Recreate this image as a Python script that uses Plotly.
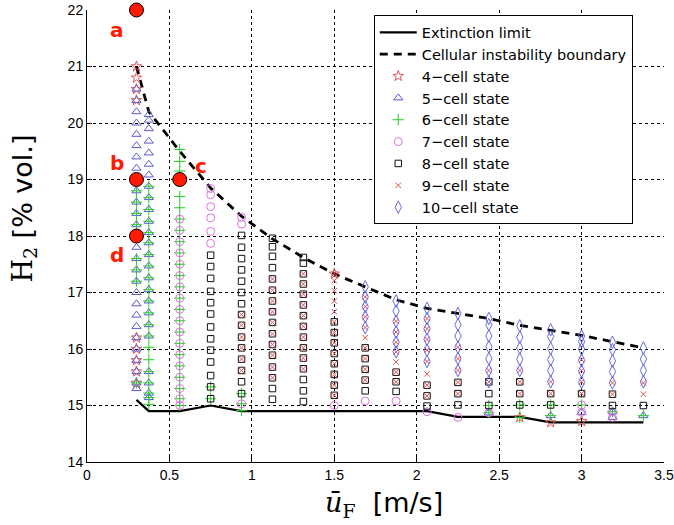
import plotly.graph_objects as go

# ---- data ----
u_cols = [0.3, 0.375, 0.5625, 0.75, 0.9375, 1.125, 1.3125, 1.5, 1.6875, 1.875,
          2.0625, 2.25, 2.4375, 2.625, 2.8125, 3.0, 3.1875, 3.375]

extinction_h = [15.1, 14.9, 14.9, 15.0, 14.9, 14.9, 14.9, 14.9, 14.9, 14.9,
                14.9, 14.8, 14.8, 14.8, 14.7, 14.7, 14.7, 14.7]

boundary_h = [21.0, 20.2, 19.5, 18.85, 18.35, 17.95, 17.62, 17.33, 17.1, 16.87,
              16.72, 16.63, 16.54, 16.42, 16.33, 16.24, 16.13, 16.02]

cell4 = {
    0.3: [21.0, 20.8, 20.6, 20.4, 16.2, 16.0, 15.8, 15.6, 15.4],
    1.5: [17.33],
    2.625: [14.79],
    2.8125: [14.7],
    3.0: [14.72],
}
cell5 = {
    0.3: [20.6, 20.4, 20.2, 20.0, 19.8, 19.6, 19.4, 19.2, 19.0, 18.8, 18.6, 18.4, 18.2,
          18.0, 17.8, 17.6, 17.4, 17.2, 17.0, 16.8, 16.6, 16.4, 16.2, 16.0, 15.8, 15.6,
          15.4, 15.3],
    0.375: [20.15, 20.05, 19.9, 19.68, 19.47, 19.27, 19.08, 18.88, 18.68, 18.47, 18.26,
            18.06, 17.88, 17.67, 17.47, 17.26, 17.05, 16.85, 16.64, 16.43, 16.23, 15.6,
            15.4, 15.22, 15.14],
    2.4375: [14.87],
    2.8125: [14.82],
    3.0: [14.88],
    3.1875: [14.89, 14.79],
    3.375: [14.82],
}
cell6 = {
    0.3: [18.8, 18.6, 18.4, 18.2, 17.6, 17.4, 17.2, 15.4],
    0.375: [18.88, 18.68, 18.47, 18.26, 18.06, 17.88, 17.67, 17.47, 17.26, 17.05, 16.85,
            16.64, 16.43, 16.23, 16.03, 15.81, 15.6, 15.4, 15.22, 15.14, 15.02],
    0.5625: [19.53, 19.32, 19.15, 18.7, 18.5, 18.3, 18.1, 17.9, 17.7, 17.5, 17.3, 17.1,
             16.9, 16.7, 16.5, 16.3, 16.1, 15.9, 15.7, 15.5, 15.3, 15.12, 15.0],
    0.75: [15.33, 15.12],
    0.9375: [15.21, 15.03, 14.91],
    2.4375: [15.0, 14.87],
    2.625: [15.01, 14.79],
    2.8125: [15.01, 14.82],
    3.0: [15.01],
    3.1875: [14.89],
    3.375: [14.82],
}
cell7 = {
    0.5625: [18.3, 18.1, 17.9, 17.7, 17.5, 17.3, 17.1, 16.9, 16.7, 16.5, 16.3, 16.1,
             15.9, 15.7, 15.5, 15.3, 15.12, 15.0],
    0.75: [18.84, 18.73, 18.52, 18.32, 18.08, 17.87],
    0.9375: [18.33, 18.21, 15.03],
    1.5: [15.0],
    1.6875: [15.08],
    1.875: [15.08],
    2.0625: [14.89],
    2.25: [14.79],
    2.4375: [14.87],
    3.0: [15.01, 14.88],
    3.1875: [14.89, 14.79],
}
cell8 = {
    0.75: [17.66, 17.46, 17.25, 17.02, 16.82, 16.62, 16.39, 16.18, 15.98, 15.77, 15.53,
           15.33, 15.12],
    0.9375: [18.01, 17.8, 17.6, 17.4, 17.2, 17.0, 16.8, 16.61, 16.42, 16.21, 16.02,
             15.82, 15.62, 15.42, 15.21],
    1.125: [17.96, 17.81, 17.64, 17.44, 17.24, 17.04, 16.85, 16.66, 16.47, 16.27, 16.08,
            15.89, 15.68, 15.49, 15.3, 15.11],
    1.3125: [17.62, 17.52, 17.33, 17.15, 16.97, 16.78, 16.59, 16.4, 16.21, 16.02, 15.84,
             15.65, 15.46, 15.26, 15.07],
    1.5: [16.48, 16.29, 16.11, 15.92, 15.74, 15.55, 15.36, 15.18],
    1.6875: [16.02, 15.83, 15.64, 15.45, 15.26],
    1.875: [15.59, 15.42, 15.25],
    2.0625: [15.36, 15.17, 14.99],
    2.25: [15.41, 15.21, 15.01],
    2.4375: [15.42, 15.21, 15.0],
    2.625: [15.42, 15.21, 15.01],
    2.8125: [15.21, 15.01],
    3.0: [15.21],
    3.1875: [15.2, 15.0],
    3.375: [15.0],
}
cell9 = {
    0.9375: [16.61, 16.42, 16.21, 16.02, 15.82, 15.62],
    1.125: [17.24, 17.04, 16.85, 16.66, 16.47, 16.27, 16.08, 15.89, 15.68, 15.49],
    1.3125: [17.33, 17.15, 16.97, 16.78, 16.59, 16.4, 16.21, 16.02, 15.84, 15.65],
    1.5: [17.33, 17.21, 17.03, 16.85, 16.66, 16.48, 16.29, 16.11, 15.92, 15.74, 15.55,
          15.36, 15.18],
    1.6875: [16.92, 16.75, 16.57, 16.38, 16.2, 16.02, 15.83, 15.64, 15.45],
    1.875: [16.49, 16.3, 16.12, 15.95, 15.77, 15.59, 15.42],
    2.0625: [16.54, 16.36, 16.17, 15.98, 15.78, 15.56, 15.36, 15.17],
    2.25: [16.03, 15.83, 15.62, 15.41, 15.21],
    2.4375: [15.62, 15.42],
    2.625: [15.62, 15.42, 15.21],
    2.8125: [15.42, 15.21],
    3.0: [15.81, 15.62, 15.42, 15.21],
    3.1875: [15.4, 15.2],
    3.375: [15.4, 15.2],
}
cell10 = {
    1.6875: [17.1, 16.92, 16.75, 16.57, 16.38],
    1.875: [16.85, 16.67, 16.49, 16.3, 16.12, 15.95],
    2.0625: [16.72, 16.54, 16.36, 16.17, 15.98, 15.78],
    2.25: [16.63, 16.43, 16.23, 16.03, 15.83, 15.62],
    2.4375: [16.54, 16.43, 16.23, 16.04, 15.83, 15.62, 15.42],
    2.625: [16.41, 16.21, 16.02, 15.82, 15.62],
    2.8125: [16.34, 16.22, 16.01, 15.81, 15.62, 15.42],
    3.0: [16.23, 16.13, 16.0, 15.8, 15.61, 15.41],
    3.1875: [16.12, 15.99, 15.79, 15.6, 15.4],
    3.375: [16.02, 15.82, 15.62, 15.42],
}

point_labels = ["a", "b", "c", "d"]
point_u = [0.3, 0.3, 0.5625, 0.3]
point_h = [22.0, 19.0, 19.0, 18.0]
label_shift = [(-19, -20), (-19, 17), (21, 14), (-19, -19)]

x_ticks = [0, 0.5, 1, 1.5, 2, 2.5, 3, 3.5]
y_ticks = [14, 15, 16, 17, 18, 19, 20, 21, 22]


def flatten(d):
    xs, ys = [], []
    for k, vals in d.items():
        for v in vals:
            xs.append(k)
            ys.append(v)
    return xs, ys


fig = go.Figure()

fig.add_trace(go.Scatter(x=u_cols, y=extinction_h, mode="lines",
                         line=dict(color="black", width=2.2),
                         name="Extinction limit"))
fig.add_trace(go.Scatter(x=u_cols, y=boundary_h, mode="lines",
                         line=dict(color="black", width=2.8, dash="8px,6px"),
                         name="Cellular instability boundary"))

states = [
    ("4\u2212cell state", cell4, "star-open", "#e0585a", 8),
    ("5\u2212cell state", cell5, "triangle-up-open", "#5a5ad0", 8),
    ("6\u2212cell state", cell6, "cross-thin-open", "#22cc22", 8),
    ("7\u2212cell state", cell7, "circle-open", "#e070e0", 8),
    ("8\u2212cell state", cell8, "square-open", "#111111", 6.5),
    ("9\u2212cell state", cell9, "x-thin-open", "#e05050", 5.5),
    ("10\u2212cell state", cell10, "diamond-tall-open", "#6a6ae0", 9),
]
for name, d, sym, col, sz in states:
    xs, ys = flatten(d)
    fig.add_trace(go.Scatter(x=xs, y=ys, mode="markers", name=name,
                             marker=dict(symbol=sym, size=sz, color=col,
                                         line=dict(width=1, color=col))))

fig.add_trace(go.Scatter(x=point_u, y=point_h, mode="markers", showlegend=False,
                         cliponaxis=False,
                         marker=dict(symbol="circle", size=14, color="#ff1a00",
                                     line=dict(width=1, color="black"))))
for lab, ux, hy, (dx, dy) in zip(point_labels, point_u, point_h, label_shift):
    fig.add_annotation(x=ux, y=hy, text="<b>%s</b>" % lab, showarrow=False,
                       xshift=dx, yshift=dy,
                       font=dict(family="DejaVu Sans", size=20, color="#ff1a00"))

axis_font = dict(family="Liberation Sans, Arial", size=14, color="black")
common = dict(showline=True, linecolor="black", linewidth=1, mirror=False,
              ticks="inside", ticklen=5, tickcolor="black",
              showgrid=True, gridcolor="black", griddash="dot", gridwidth=1,
              zeroline=False, tickfont=axis_font, automargin=False)
fig.update_xaxes(range=[0, 3.5], tickvals=x_ticks, ticktext=[str(t) for t in x_ticks], **common)
fig.update_yaxes(range=[14, 22], tickvals=y_ticks, ticktext=[str(t) for t in y_ticks], **common)

# axis titles
fig.add_annotation(xref="paper", yref="paper", x=0.515, y=-0.095, xanchor="center",
                   yanchor="middle", showarrow=False,
                   text='<span style="font-family:DejaVu Serif;font-style:italic">ū</span>'
                        '<sub><span style="font-family:DejaVu Serif">F</span></sub>'
                        '  [m/s]',
                   font=dict(family="DejaVu Sans", size=27, color="black"))
fig.add_annotation(xref="paper", yref="paper", x=-0.108, y=0.56, xanchor="center",
                   yanchor="middle", showarrow=False, textangle=-90,
                   text='<span style="font-family:DejaVu Serif">H</span>'
                        '<sub><span style="font-family:DejaVu Serif">2</span></sub>'
                        ' [% vol.]',
                   font=dict(family="DejaVu Sans", size=27, color="black"))

fig.update_layout(
    width=674, height=525,
    margin=dict(l=87, r=10, t=10, b=63),
    plot_bgcolor="white", paper_bgcolor="white",
    showlegend=True,
    legend=dict(x=0.497, y=0.988, xanchor="left", yanchor="top",
                bgcolor="white", bordercolor="black", borderwidth=1,
                font=dict(family="DejaVu Sans", size=14.5, color="black"),
                tracegroupgap=0, itemwidth=37),
)

fig.write_html("out.html")
